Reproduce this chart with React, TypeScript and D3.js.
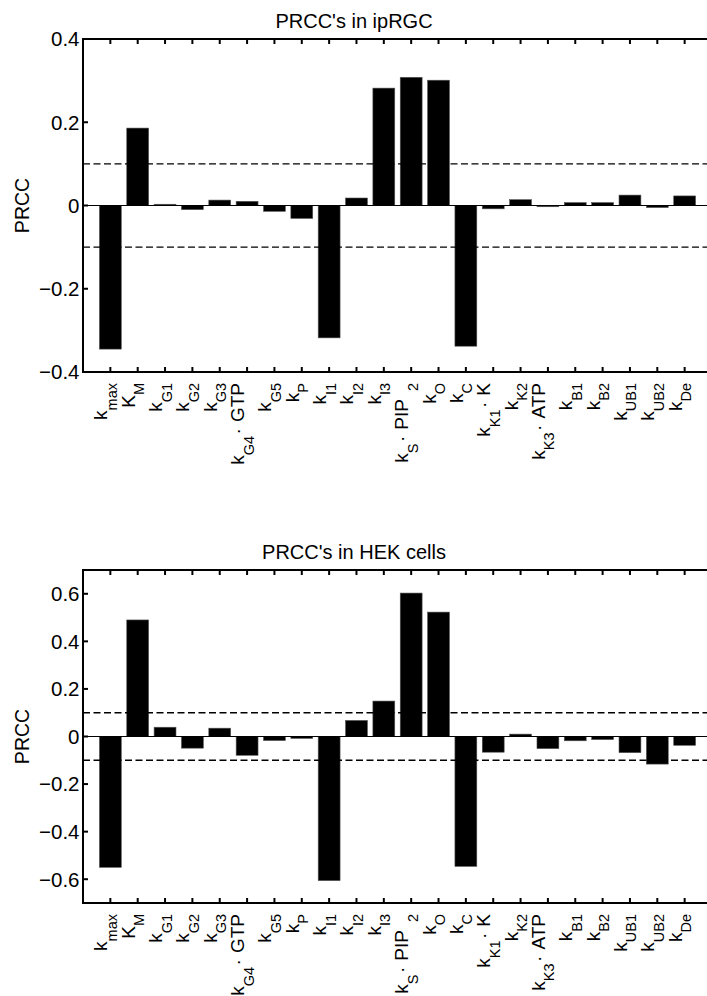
import React from "react";
import * as d3 from "d3";

const categories: string[] = [
  "k_{max}", "K_M", "k_{G1}", "k_{G2}", "k_{G3}", "k_{G4}\\cdot GTP", "k_{G5}", "k_P",
  "k_{I1}", "k_{I2}", "k_{I3}", "k_S\\cdot PIP~_2", "k_O", "k_C", "k_{K1}\\cdot K",
  "k_{K2}", "k_{K3}\\cdot ATP", "k_{B1}", "k_{B2}", "k_{UB1}", "k_{UB2}", "k_{De}",
];

const ipRGCValues: number[] = [
  -0.345, 0.186, 0.003, -0.010, 0.013, 0.010, -0.014, -0.031, -0.318, 0.018, 0.282,
  0.308, 0.301, -0.338, -0.008, 0.014, -0.003, 0.007, 0.007, 0.025, -0.005, 0.023,
];

const hekValues: number[] = [
  -0.55, 0.49, 0.039, -0.049, 0.035, -0.079, -0.017, -0.008, -0.606, 0.0675, 0.149,
  0.603, 0.523, -0.546, -0.066, 0.01, -0.051, -0.018, -0.013, -0.068, -0.116, -0.037,
];

const ipRGCTicks: number[] = [-0.4, -0.2, 0, 0.2, 0.4];
const hekTicks: number[] = [-0.6, -0.4, -0.2, 0, 0.2, 0.4, 0.6];
const thresholds: number[] = [0.1, -0.1];

const titles: string[] = ["PRCC's in ipRGC", "PRCC's in HEK cells"];
const yLabel = "PRCC";

const FONT = "'Liberation Sans', Arial, Helvetica, sans-serif";
const MAIN_FS = 19;
const SUB_FS = 14.5;
const SUB_SHIFT = 9.5;
const TICK_FS = 20.5;
const TITLE_FS = 20;
const YLABEL_FS = 19.5;

type Seg = { text: string; sub: boolean; gap: number };

function parseTex(s: string): Seg[] {
  const segs: Seg[] = [];
  let i = 0;
  let cur = "";
  let pendingGap = 0;
  const flush = () => {
    if (cur.length) {
      segs.push({ text: cur, sub: false, gap: pendingGap });
      pendingGap = 0;
      cur = "";
    }
  };
  while (i < s.length) {
    const c = s[i];
    if (s.startsWith("\\cdot", i)) {
      flush();
      segs.push({ text: "\u00b7", sub: false, gap: 1.5 });
      i += 5;
      if (s[i] === " ") {
        pendingGap = 6;
        i++;
      }
    } else if (c === "~") {
      flush();
      pendingGap = 8;
      i++;
    } else if (c === "_") {
      flush();
      i++;
      let t = "";
      if (s[i] === "{") {
        const j = s.indexOf("}", i);
        t = s.slice(i + 1, j);
        i = j + 1;
      } else {
        t = s[i];
        i++;
      }
      segs.push({ text: t, sub: true, gap: pendingGap });
      pendingGap = 0;
    } else {
      cur += c;
      i++;
    }
  }
  flush();
  return segs;
}

const AX_LEFT = 83;
const AX_RIGHT = 712;
const AX_H = 333;

function Panel({
  top,
  values,
  ticks,
  domain,
  title,
}: {
  top: number;
  values: number[];
  ticks: number[];
  domain: [number, number];
  title: string;
}) {
  const bottom = top + AX_H;
  const x = d3.scaleLinear().domain([0, categories.length + 1]).range([AX_LEFT, AX_RIGHT]);
  const y = d3.scaleLinear().domain(domain).range([bottom, top]);
  const barW = x(0.8) - x(0);
  const fmt = (v: number) => (v === 0 ? "0" : d3.format(".1f")(v).replace("-", "\u2212"));
  const tickLen = 5;
  return (
    <g>
      <text x={354} y={top - 11} textAnchor="middle" fontFamily={FONT} fontSize={TITLE_FS}>
        {title}
      </text>
      <text
        transform={`translate(29,${(top + bottom) / 2}) rotate(-90)`}
        textAnchor="middle"
        fontFamily={FONT}
        fontSize={YLABEL_FS}
      >
        {yLabel}
      </text>
      {values.map((v, i) => (
        <rect
          key={i}
          x={x(i + 1) - barW / 2}
          y={y(Math.max(0, v))}
          width={barW}
          height={Math.abs(y(v) - y(0))}
          fill="#000"
          stroke="#555"
          strokeWidth={0.6}
        />
      ))}
      <line x1={AX_LEFT} x2={AX_RIGHT} y1={y(0)} y2={y(0)} stroke="#000" strokeWidth={1} />
      {thresholds.map((t, i) => (
        <line
          key={i}
          x1={AX_LEFT}
          x2={AX_RIGHT}
          y1={y(t)}
          y2={y(t)}
          stroke="#000"
          strokeWidth={1.4}
          strokeDasharray="7,3.5"
        />
      ))}
      <rect
        x={AX_LEFT}
        y={top}
        width={AX_RIGHT - AX_LEFT}
        height={AX_H}
        fill="none"
        stroke="#000"
        strokeWidth={2}
      />
      {ticks.map((t, i) => (
        <g key={i}>
          <line x1={AX_LEFT} x2={AX_LEFT + tickLen} y1={y(t)} y2={y(t)} stroke="#000" strokeWidth={2} />
          <line x1={AX_RIGHT} x2={AX_RIGHT - tickLen} y1={y(t)} y2={y(t)} stroke="#000" strokeWidth={2} />
          <text
            x={AX_LEFT - 3.5}
            y={y(t)}
            dy="0.36em"
            textAnchor="end"
            fontFamily={FONT}
            fontSize={TICK_FS}
          >
            {fmt(t)}
          </text>
        </g>
      ))}
      {categories.map((c, i) => {
        const xp = x(i + 1);
        const segs = parseTex(c);
        let level = 0;
        return (
          <g key={i}>
            <line x1={xp} x2={xp} y1={bottom} y2={bottom - tickLen} stroke="#000" strokeWidth={2} />
            <line x1={xp} x2={xp} y1={top} y2={top + tickLen} stroke="#000" strokeWidth={2} />
            <text
              transform={`translate(${xp - 3},${bottom + 11}) rotate(-90)`}
              textAnchor="end"
              fontFamily={FONT}
              fontSize={MAIN_FS}
              style={{ whiteSpace: "pre" }}
            >
              {segs.map((s, k) => {
                const target = s.sub ? SUB_SHIFT : 0;
                const dy = target - level;
                level = target;
                return (
                  <tspan key={k} dy={dy} dx={s.gap} fontSize={s.sub ? SUB_FS : MAIN_FS}>
                    {s.text}
                  </tspan>
                );
              })}
            </text>
          </g>
        );
      })}
    </g>
  );
}

export default function App() {
  return (
    <div style={{ position: "absolute", left: 0, top: 0 }}>
      <svg width={707} height={996} style={{ display: "block", background: "#fff" }}>
        <Panel top={39} values={ipRGCValues} ticks={ipRGCTicks} domain={[-0.4, 0.4]} title={titles[0]} />
        <Panel top={570} values={hekValues} ticks={hekTicks} domain={[-0.7, 0.7]} title={titles[1]} />
      </svg>
    </div>
  );
}
